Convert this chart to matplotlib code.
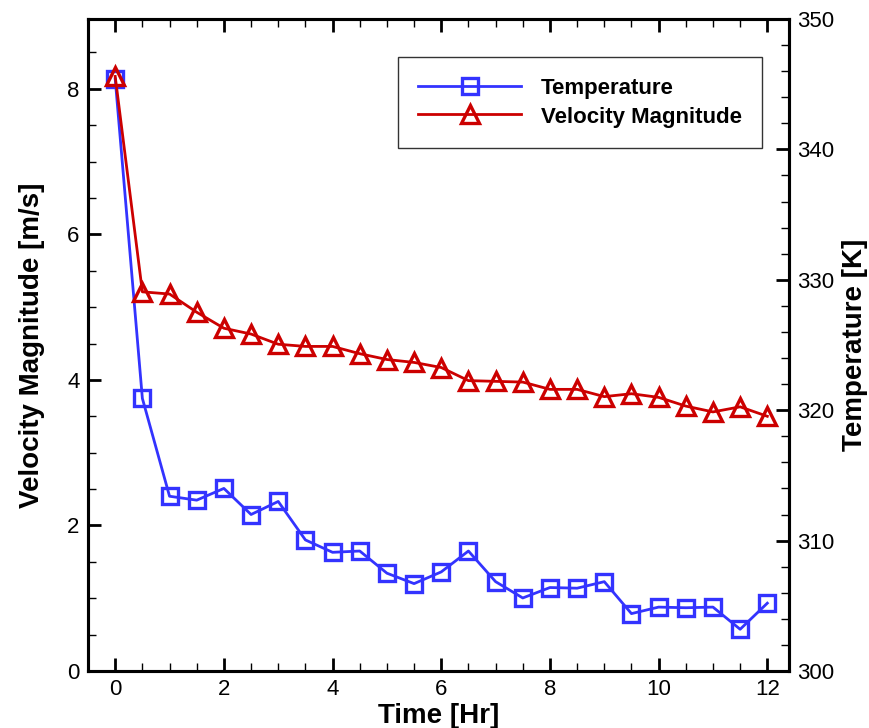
import numpy as np
import matplotlib.pyplot as plt
from matplotlib.ticker import MultipleLocator

plt.rcParams['font.family'] = ['Liberation Sans', 'DejaVu Sans']

time_hr = [0, 0.5, 1, 1.5, 2, 2.5, 3, 3.5, 4, 4.5, 5, 5.5, 6, 6.5, 7, 7.5,
           8, 8.5, 9, 9.5, 10, 10.5, 11, 11.5, 12]
velocity = [8.17, 5.21, 5.18, 4.93, 4.71, 4.63, 4.49, 4.46, 4.46, 4.36, 4.28,
            4.24, 4.17, 3.99, 3.98, 3.97, 3.87, 3.87, 3.77, 3.81, 3.76, 3.64,
            3.56, 3.63, 3.50]
temperature = [345.4, 320.9, 313.4, 313.1, 314.0, 312.0, 313.0, 310.05, 309.1,
               309.2, 307.5, 306.7, 307.6, 309.2, 306.85, 305.6, 306.4, 306.35,
               306.85, 304.4, 304.9, 304.85, 304.9, 303.2, 305.2]

blue = '#3333ff'
red = '#cc0000'

fig = plt.figure(figsize=(8.69, 7.28), dpi=100)
ax = fig.add_axes([0.1013, 0.0783, 0.8067, 0.8957])
ax2 = ax.twinx()
# velocity drawn above the temperature curve
ax.set_zorder(ax2.get_zorder() + 1)
ax.patch.set_visible(False)

l_temp, = ax2.plot(time_hr, temperature, color=blue, lw=2, marker='s',
                   ms=11.5, mfc='none', mec=blue, mew=2.4, label='Temperature')
l_vel, = ax.plot(time_hr, velocity, color=red, lw=2, marker='^',
                 ms=12.5, mfc='none', mec=red, mew=2.4, label='Velocity Magnitude')

ax.set_xlim(-0.5, 12.4)
ax.set_ylim(0, 8.96)
ax2.set_ylim(300, 350)

ax.xaxis.set_major_locator(MultipleLocator(2))
ax.xaxis.set_minor_locator(MultipleLocator(0.5))
ax.yaxis.set_major_locator(MultipleLocator(2))
ax.yaxis.set_minor_locator(MultipleLocator(0.5))
ax2.yaxis.set_major_locator(MultipleLocator(10))
ax2.yaxis.set_minor_locator(MultipleLocator(2))

for a in (ax, ax2):
    for s in a.spines.values():
        s.set_linewidth(2.2)
    a.tick_params(which='major', direction='in', length=9.5, width=2,
                  labelsize=16, pad=6)
    a.tick_params(which='minor', direction='in', length=6, width=1)
ax.tick_params(which='both', top=True, right=False)
ax2.tick_params(which='both', left=False, right=True)

ax.set_xlabel('Time [Hr]', fontsize=20, fontweight='bold', labelpad=2)
ax.set_ylabel('Velocity Magnitude [m/s]', fontsize=20, fontweight='bold', labelpad=16)
ax2.set_ylabel('Temperature [K]', fontsize=20, fontweight='bold', labelpad=5.5)

leg = ax.legend(handles=[l_temp, l_vel], loc='upper right',
                bbox_to_anchor=(0.961, 0.942), borderaxespad=0,
                prop={'size': 16, 'weight': 'bold'}, handlelength=4.6,
                handletextpad=0.9, handleheight=1.0, fancybox=False,
                frameon=True, borderpad=0.9, labelspacing=0.27)
leg.get_frame().set_edgecolor('black')
leg.get_frame().set_linewidth(1.0)

fig.savefig('out.png', dpi=100)
